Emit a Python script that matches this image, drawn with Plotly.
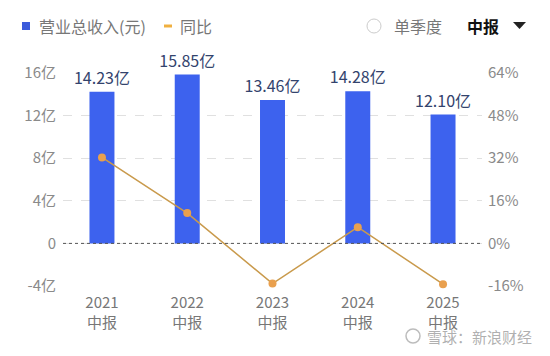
import plotly.graph_objects as go

categories = ["2021<br>中报", "2022<br>中报", "2023<br>中报", "2024<br>中报", "2025<br>中报"]
revenue = [14.23, 15.85, 13.46, 14.28, 12.10]  # 亿
yoy = [32.3, 11.4, -15.1, 6.1, -15.3]  # %
left_ticks = [-4, 0, 4, 8, 12, 16]
left_ticktext = ["-4亿", "0", "4亿", "8亿", "12亿", "16亿"]
right_ticks = [-16, 0, 16, 32, 48, 64]
right_ticktext = ["-16%", "0%", "16%", "32%", "48%", "64%"]

FONT = "Noto Sans CJK SC"
BLUE = "#3d62ee"
ORANGE = "#e9a04e"
LINE = "#c99a4c"

x_idx = list(range(len(categories)))

fig = go.Figure()
fig.add_trace(go.Bar(
    x=x_idx, y=revenue, width=0.293, marker=dict(color=BLUE, line=dict(width=0)),
    texttemplate="%{y:.2f}亿", textposition="outside", constraintext="none",
    textfont=dict(size=16, color="#33436d", family=FONT),
    cliponaxis=False, showlegend=False, yaxis="y",
))
fig.add_trace(go.Scatter(
    x=x_idx, y=yoy, mode="lines+markers", yaxis="y2",
    line=dict(color=LINE, width=1.5),
    marker=dict(color=ORANGE, size=8),
    showlegend=False, cliponaxis=False,
))

fig.update_layout(
    width=542, height=348,
    margin=dict(l=55, r=68, t=65, b=70),
    paper_bgcolor="white", plot_bgcolor="white",
    font=dict(family=FONT, color="#888888", size=15),
    xaxis=dict(
        range=[-0.457, 4.457], tickvals=x_idx, ticktext=categories,
        showgrid=False, zeroline=False, showline=False, ticks="", automargin=False,
        ticklabelstandoff=6,
        tickfont=dict(size=15, color="#777777"),
    ),
    yaxis=dict(
        range=[-4, 16], tickvals=left_ticks, ticktext=left_ticktext,
        showgrid=True, gridcolor="#e0e0e0", griddash="dash", gridwidth=1,
        zeroline=False, showline=False, ticks="", automargin=False,
        ticklabelstandoff=6,
        tickfont=dict(size=15, color="#8a8a8a"),
    ),
    yaxis2=dict(
        range=[-16, 64], tickvals=right_ticks, ticktext=right_ticktext,
        overlaying="y", side="right", showgrid=False, zeroline=False, automargin=False,
        ticklabelstandoff=5,
        showline=False, ticks="", tickfont=dict(size=15, color="#8a8a8a"),
    ),
    shapes=[
        dict(type="line", xref="paper", yref="y", x0=0, x1=1, y0=0, y1=0,
             line=dict(color="#555555", width=1, dash="dot"), layer="above"),
        # legend markers
        dict(type="rect", xref="paper", yref="paper", xsizemode="pixel", ysizemode="pixel",
             xanchor=0, yanchor=1, x0=-41, x1=-33, y0=43, y1=51,
             fillcolor="#3b5bdb", line=dict(width=0)),
        dict(type="line", xref="paper", yref="paper", xsizemode="pixel", ysizemode="pixel",
             xanchor=0, yanchor=1, x0=101, x1=109, y0=47, y1=47,
             line=dict(color="#f0b040", width=3)),
        dict(type="circle", xref="paper", yref="paper", xsizemode="pixel", ysizemode="pixel",
             xanchor=0, yanchor=1, x0=304, x1=318, y0=40, y1=54,
             line=dict(color="#cccccc", width=1), fillcolor="white"),
        dict(type="path", xref="paper", yref="paper", xsizemode="pixel", ysizemode="pixel",
             xanchor=0, yanchor=1, path="M 450 51 L 463 51 L 456.5 44 Z",
             fillcolor="#222222", line=dict(width=0)),
        # watermark logo
        dict(type="circle", xref="paper", yref="paper", xsizemode="pixel", ysizemode="pixel",
             xanchor=0, yanchor=0, x0=343, x1=357, y0=-57, y1=-43,
             line=dict(color="rgba(160,160,160,0.7)", width=1.5), fillcolor="rgba(0,0,0,0)"),
    ],
    annotations=[
        dict(text="营业总收入(元)", xref="paper", yref="paper", x=-26/419, y=1 + 47/213,
             xanchor="left", yanchor="middle", showarrow=False,
             font=dict(size=16, color="#777777", family=FONT)),
        dict(text="同比", xref="paper", yref="paper", x=115/419, y=1 + 47/213,
             xanchor="left", yanchor="middle", showarrow=False,
             font=dict(size=16, color="#777777", family=FONT)),
        dict(text="单季度", xref="paper", yref="paper", x=329/419, y=1 + 47/213,
             xanchor="left", yanchor="middle", showarrow=False,
             font=dict(size=16, color="#777777", family=FONT)),
        dict(text="<b>中报</b>", xref="paper", yref="paper", x=402/419, y=1 + 47/213,
             xanchor="left", yanchor="middle", showarrow=False,
             font=dict(size=16, color="#111111", family=FONT)),
        dict(text="雪球：新浪财经", xref="paper", yref="paper", x=(534 - 63) / 419, y=-(336 - 286) / 213,
             xanchor="right", yanchor="middle", showarrow=False,
             font=dict(size=15, color="rgba(150,150,150,0.75)", family=FONT)),
    ],
)

fig.write_html("out.html")
